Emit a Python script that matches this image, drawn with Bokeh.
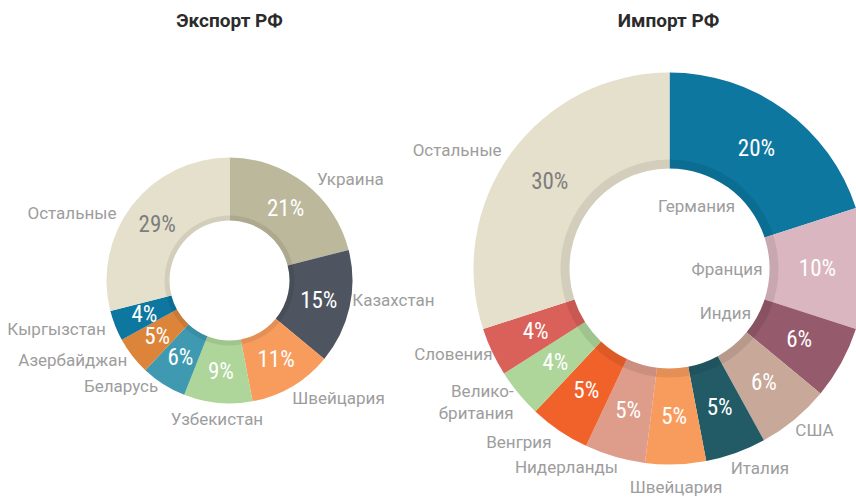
import numpy as np
from bokeh.plotting import figure
from bokeh.models import Range1d
from bokeh.core.properties import value
from bokeh.embed import file_html
from bokeh.resources import INLINE

# ---------------- data ----------------
export_countries = ["Украина", "Казахстан", "Швейцария", "Узбекистан", "Беларусь",
                    "Азербайджан", "Кыргызстан", "Остальные"]
export_share = [21, 15, 11, 9, 6, 5, 4, 29]
export_colors = ["#bcb89c", "#4f5560", "#f89c5e", "#aed59a", "#3f9ab1",
                 "#dd843b", "#0e77a0", "#e5e0cc"]

import_countries = ["Германия", "Франция", "Индия", "США", "Италия", "Швейцария",
                    "Нидерланды", "Венгрия", "Велико-\nбритания", "Словения", "Остальные"]
import_share = [20, 10, 6, 6, 5, 5, 5, 5, 4, 4, 30]
import_colors = ["#0e77a0", "#dab6c0", "#955a6b", "#c8a898", "#225b65", "#f89c5e",
                 "#de9c8a", "#f0622a", "#aed59a", "#da615a", "#e5e0cc"]

titles = ["Экспорт РФ", "Импорт РФ"]

# small label nudges (screen px: dx, dy down) – layout only
export_nudge = [(6, 4), (-7, -10), (-5, 3), (0, 6), (0, -7), (3, -2), (0, 0), (-8, 14)]
import_nudge = [(11, 13), (0, 0), (0, 0), (-8, 0), (-10, 2), (0, 9), (7, -3), (0, 0),
                (6, 0), (13, -4), (2, 5)]

# ---------------- figure ----------------
W, H = 856, 497
p = figure(width=W, height=H, x_range=Range1d(0, W), y_range=Range1d(0, H),
           output_backend="svg", toolbar_location=None, min_border=0)
p.axis.visible = False
p.grid.visible = False
p.outline_line_color = None


def sy(y):
    return H - y


NAME_FONT = value("Roboto")
PCT_FONT = value("Roboto Condensed")


def donut(cx, cy, r_in, r_out, ring, shares, colors, names, label_gap, nudge,
          inner_n=0, inner_r=0):
    shares = np.array(shares, dtype=float)
    frac = shares / shares.sum()
    c1 = np.cumsum(frac)
    c0 = c1 - frac
    start = np.pi / 2 - 2 * np.pi * c1
    end = np.pi / 2 - 2 * np.pi * c0
    p.annular_wedge(x=cx, y=cy, inner_radius=r_in, outer_radius=r_out,
                    start_angle=start, end_angle=end, fill_color=colors,
                    line_color=None)
    # darker inner ring
    p.annular_wedge(x=cx, y=cy, inner_radius=r_in, outer_radius=r_in + ring,
                    start_angle=0, end_angle=2 * np.pi, fill_color="black",
                    fill_alpha=0.08, line_color=None)
    mid = (start + end) / 2
    rm = (r_in + r_out) / 2
    pct_txt = ["%d%%" % v for v in shares]
    pct_col = ["white"] * (len(shares) - 1) + ["#7d7d7d"]
    p.text(x=cx + rm * np.cos(mid), y=cy + rm * np.sin(mid), text=pct_txt,
           text_color=pct_col, text_font=PCT_FONT, text_font_size="23px",
           text_align="center", text_baseline="middle")
    xs, ys, al = [], [], []
    for i, m in enumerate(mid):
        if i < inner_n:
            r = inner_r
            a = "right"
        else:
            r = r_out + label_gap
            c = np.cos(m)
            a = "left" if c > 0.25 else ("right" if c < -0.25 else "center")
        xs.append(cx + r * np.cos(m) + nudge[i][0])
        ys.append(cy + r * np.sin(m) - nudge[i][1])
        al.append(a)
    p.text(x=xs, y=ys, text=names, text_color="#9d9d9d", text_font=NAME_FONT,
           text_font_size="17px", text_align=al, text_baseline="middle",
           text_line_height=1.1)


donut(229, sy(280), 60, 123, 5, export_share, export_colors, export_countries, 10,
      export_nudge)
donut(669, sy(268), 100, 196, 9, import_share, import_colors, import_countries, 14,
      import_nudge, inner_n=3, inner_r=93)

p.text(x=[229, 668], y=[sy(20), sy(20)], text=titles, text_color="#2b2b2b",
       text_font=value("Roboto"), text_font_style="bold", text_font_size="19px",
       text_align="center", text_baseline="middle")

open("out.html", "w").write(file_html(p, INLINE))
